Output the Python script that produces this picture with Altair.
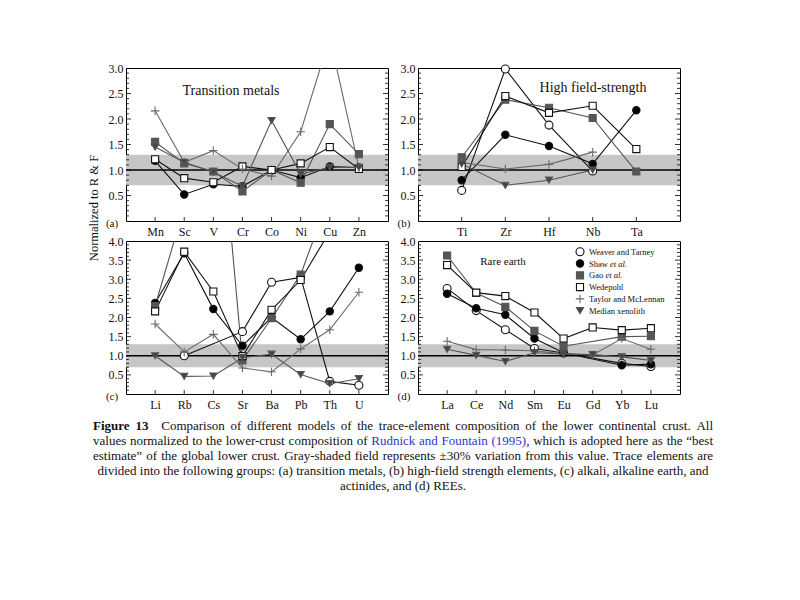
import altair as alt
import pandas as pd

FONT = "Liberation Serif"
SERIES = ["Weaver and Tarney", "Shaw et al.", "Gao et al.", "Wedepohl",
          "Taylor and McLennan", "Median xenolith"]

# ---- panel (a) transition metals
A_CATS = ["Mn", "Sc", "V", "Cr", "Co", "Ni", "Cu", "Zn"]
A_WEAVER = [None, None, None, None, None, None, None, None]
A_SHAW = [1.18, 0.52, 0.72, 0.68, 1.00, 0.85, 1.07, 1.05]
A_GAO = [1.55, 1.13, 0.97, 0.58, 1.00, 0.75, 1.90, 1.31]
A_WEDEPOHL = [1.21, 0.84, 0.76, 1.07, 1.00, 1.13, 1.45, 1.02]
A_TAYLOR = [2.16, 1.15, 1.38, 1.02, 0.88, 1.75, 3.60, 1.05]
A_MEDIAN = [1.45, 1.15, 0.96, 0.68, 1.97, 0.92, 1.05, 1.05]

# ---- panel (b) high field-strength
B_CATS = ["Ti", "Zr", "Hf", "Nb", "Ta"]
B_WEAVER = [0.60, 2.98, 1.88, 0.98, None]
B_SHAW = [0.80, 1.69, 1.47, 1.12, 2.17]
B_GAO = [1.25, 2.38, 2.22, 2.02, 0.97]
B_WEDEPOHL = [1.06, 2.45, 2.12, 2.26, 1.41]
B_TAYLOR = [1.15, 1.02, 1.11, 1.35, None]
B_MEDIAN = [1.12, 0.70, 0.80, 1.00, None]

# ---- panel (c) alkali, alkaline earth, actinides
C_CATS = ["Li", "Rb", "Cs", "Sr", "Ba", "Pb", "Th", "U"]
C_WEAVER = [None, 1.00, None, 1.63, 2.92, 3.05, 0.33, 0.23]
C_SHAW = [2.38, 3.68, 2.22, 1.26, 2.00, 1.43, 2.16, 3.30]
C_GAO = [2.30, 4.90, 9.30, 0.88, 1.98, 3.12, 5.20, None]
C_WEDEPOHL = [2.16, 3.72, 2.68, 0.99, 2.20, 2.98, 4.25, None]
C_TAYLOR = [1.83, 1.10, 1.56, 0.68, 0.58, 1.18, 1.68, 2.66]
C_MEDIAN = [1.00, 0.46, 0.47, 0.95, 1.04, 0.51, 0.27, 0.40]

# ---- panel (d) rare earth
D_CATS = ["La", "Ce", "Nd", "Sm", "Eu", "Gd", "Yb", "Lu"]
D_WEAVER = [2.76, 2.18, 1.68, 1.19, 1.07, None, 0.80, 0.72]
D_SHAW = [2.62, 2.24, 2.07, 1.45, 1.08, None, 0.75, 0.78]
D_GAO = [3.62, 2.64, 2.28, 1.65, 1.25, None, 1.50, 1.51]
D_WEDEPOHL = [3.37, 2.65, 2.56, 2.13, 1.45, 1.74, 1.67, 1.72]
D_TAYLOR = [1.38, 1.16, 1.15, 1.13, 1.05, 1.02, 1.45, 1.17]
D_MEDIAN = [1.17, 1.01, 0.85, 1.08, 1.05, 1.03, 0.97, 0.88]

BAND = [0.7, 1.3]
REF = 1.0

W, H = 262, 153

STROKE = alt.Scale(domain=SERIES, range=["#111111", "#111111", "#555555", "#111111", "#6a6a6a", "#555555"])
SHAPE = alt.Scale(domain=SERIES, range=["circle", "circle", "square", "square",
                                        "M-1,0L1,0M0,-1L0,1", "triangle-down"])
FILL = alt.Scale(domain=SERIES, range=["#ffffff", "#000000", "#555555", "#ffffff", "#6a6a6a", "#444444"])
SIZES = {"Weaver and Tarney": 64, "Shaw et al.": 54, "Gao et al.": 50, "Wedepohl": 50,
         "Taylor and McLennan": 72, "Median xenolith": 50}


def xq(cats):
    return alt.X("el:N", sort=cats,
                 scale=alt.Scale(type="point", padding=1, domain=cats),
                 axis=alt.Axis(title=None, ticks=False, domain=False, grid=False, labelAngle=0,
                               labelFont=FONT, labelFontSize=12, labelPadding=5, labelColor="#111"))


def yq(field, ymax):
    return alt.Y(f"{field}:Q",
                 scale=alt.Scale(domain=[0, ymax], nice=False, zero=False),
                 axis=alt.Axis(title=None, values=[0.5 * k for k in range(1, int(ymax * 2) + 1)],
                               format=".1f", ticks=False, domain=False, grid=False,
                               labelFont=FONT, labelFontSize=12, labelPadding=3, labelColor="#111"))


def text_layer(txt, x, y, size, **kw):
    return alt.Chart(pd.DataFrame({"t": [txt]})).mark_text(
        font=FONT, fontSize=size, color="#111", **kw).encode(
        text="t:N", x=alt.value(x), y=alt.value(y))


# ---- caption, laid out word by word (Times metrics, per 1000 em)
TW = {" ": 250, "(": 333, ")": 333, ",": 250, ".": 250, "-": 333, ":": 278, ";": 278,
      "\u201c": 444, "\u201d": 444, "\u00b1": 564, "%": 833, "&": 778}
TW.update({c: 500 for c in "0123456789"})
TW.update(dict(zip("abcdefghijklmnopqrstuvwxyz",
                   [444, 500, 444, 500, 444, 333, 500, 500, 278, 278, 500, 278, 778, 500, 500, 500,
                    500, 333, 389, 278, 500, 500, 722, 500, 500, 444])))
TW.update(dict(zip("ABCDEFGHIJKLMNOPQRSTUVWXYZ",
                   [722, 667, 667, 722, 611, 556, 722, 722, 333, 389, 722, 611, 889, 722, 722, 556,
                    722, 667, 556, 611, 722, 722, 944, 722, 722, 611])))
TWB = dict(TW)
TWB.update({"F": 611, "u": 556, "r": 444})
CFS = 13.0


def tw(text, bold=False):
    tab = TWB if bold else TW
    return sum(tab.get(ch, 500) for ch in text) * CFS / 1000.0


def toks(s, style="n"):
    return [{"t": w, "s": style, "glue": False, "extra": 0.0} for w in s.split()]


CAP_LINES = [
    ([{"t": "Figure", "s": "b", "glue": False, "extra": 0.0},
      {"t": "13", "s": "b", "glue": False, "extra": 7.0}]
     + toks("Comparison of different models of the trace-element composition of the lower continental crust. All"),
     "justify"),
    (toks("values normalized to the lower-crust composition of")
     + toks("Rudnick and Fountain (1995)", "blue")
     + [{"t": ",", "s": "n", "glue": True, "extra": 0.0}]
     + toks("which is adopted here as the \u201cbest"), "justify"),
    (toks("estimate\u201d of the global lower crust. Gray-shaded field represents \u00b130% variation from this value. Trace elements are"),
     "justify"),
    (toks("divided into the following groups: (a) transition metals, (b) high-field strength elements, (c) alkali, alkaline earth, and"),
     "center"),
    (toks("actinides, and (d) REEs."), "center"),
]
# relative to panel (c)'s plot origin
CX0, CX1, CCENTER = -33.0, 587.0, 277.0
CY = [185, 200, 215, 230, 245]


def caption_layer():
    rows = []
    for (tokens, mode), y in zip(CAP_LINES, CY):
        widths = [tw(t["t"], t["s"] == "b") for t in tokens]
        nsp = sum(1 for t in tokens[1:] if not t["glue"])
        extras = sum(t["extra"] for t in tokens)
        sp = TW[" "] * CFS / 1000.0
        natural = sum(widths) + nsp * sp + extras
        if mode == "justify":
            x = CX0
            sp = sp + (CX1 - CX0 - natural) / nsp
        else:
            x = CCENTER - natural / 2
        for k, (t, w) in enumerate(zip(tokens, widths)):
            if k > 0 and not t["glue"]:
                x += sp
            rows.append({"t": t["t"], "x": x, "y": y, "bold": t["s"] == "b",
                         "c": "#2b36c4" if t["s"] == "blue" else "#111111"})
            x += w + t["extra"]
    cdf = pd.DataFrame(rows)
    base = alt.Chart(cdf)
    enc = dict(x=alt.X("x:Q", scale=None, axis=None), y=alt.Y("y:Q", scale=None, axis=None),
               text="t:N", color=alt.Color("c:N", scale=None))
    norm = base.transform_filter(alt.datum.bold == False).mark_text(
        font=FONT, fontSize=CFS, align="left", baseline="middle").encode(**enc)
    bold = base.transform_filter(alt.datum.bold == True).mark_text(
        font=FONT, fontSize=CFS, fontWeight="bold", align="left", baseline="middle").encode(**enc)
    return alt.layer(norm, bold)


def panel(cats, data, ymax, label, title=None, legend=False, ytitle=False, caption=False):
    rows = []
    for s, vals in zip(SERIES, data):
        for i, (c, v) in enumerate(zip(cats, vals)):
            if v is not None:
                rows.append({"el": c, "idx": i, "series": s, "v": v, "sz": SIZES[s]})
    df = pd.DataFrame(rows)

    bdf = pd.DataFrame({"lo": [BAND[0]], "hi": [BAND[1]], "ref": [REF]})
    band = alt.Chart(bdf).mark_rect(color="#c6c6c6").encode(
        y=yq("lo", ymax), y2="hi:Q", x=alt.value(0), x2=alt.value(W))
    ref = alt.Chart(bdf).mark_rule(color="#000", strokeWidth=1.3).encode(
        y=yq("ref", ymax), x=alt.value(0), x2=alt.value(W))

    tv = [round(0.1 * k, 1) for k in range(1, int(round(ymax * 10)))]
    tdf = pd.DataFrame({"t": tv, "major": [abs(t * 2 - round(t * 2)) < 1e-6 for t in tv]})
    layers = [band, ref]
    for is_major, ln in [(False, 3), (True, 5)]:
        sub = alt.Chart(tdf).transform_filter(alt.datum.major == is_major)
        layers.append(sub.mark_rule(color="#000", strokeWidth=0.8).encode(
            y=yq("t", ymax), x=alt.value(0), x2=alt.value(ln)))
        layers.append(sub.mark_rule(color="#000", strokeWidth=0.8).encode(
            y=yq("t", ymax), x=alt.value(W), x2=alt.value(W - ln)))
    layers.append(alt.Chart(pd.DataFrame({"el": cats})).mark_rule(color="#000", strokeWidth=0.8).encode(
        x=xq(cats), y=alt.value(H), y2=alt.value(H - 4)))

    lines = alt.Chart(df).mark_line(clip=True, strokeWidth=1.1).encode(
        x=xq(cats), y=yq("v", ymax),
        stroke=alt.Stroke("series:N", scale=STROKE, legend=None),
        detail="series:N", order=alt.Order("idx:Q"))
    points = alt.Chart(df).transform_filter(alt.datum.v <= ymax).mark_point(
        filled=True, opacity=1, strokeWidth=1.1).encode(
        x=xq(cats), y=yq("v", ymax),
        shape=alt.Shape("series:N", scale=SHAPE, legend=None),
        fill=alt.Fill("series:N", scale=FILL, legend=None),
        stroke=alt.Stroke("series:N", scale=STROKE, legend=None),
        size=alt.Size("sz:Q", scale=None))
    layers += [lines, points]

    if title:
        t, tx, ty, ts = title
        layers.append(text_layer(t, tx, ty, ts, align="center", baseline="middle"))
    layers.append(text_layer(label, -14, H + 3, 11, align="center", baseline="middle"))
    if ytitle:
        layers.append(text_layer("Normalized to R & F", -32, 140, 12.5, align="center",
                                 baseline="middle", angle=270))
    if legend:
        ldf = pd.DataFrame({"series": SERIES,
                            "lab": ["Weaver and Tarney", "Shaw", "Gao", "Wedepohl",
                                    "Taylor and McLennan", "Median xenolith"],
                            "i": list(range(len(SERIES)))})
        ldf["sz"] = [SIZES[s] for s in SERIES]
        ldf["ly"] = [ymax * (1 - (10.7 + 11.8 * i) / H) for i in ldf["i"]]
        layers.append(alt.Chart(ldf).mark_point(filled=True, opacity=1, strokeWidth=1.1).encode(
            x=alt.value(162), y=yq("ly", ymax),
            shape=alt.Shape("series:N", scale=SHAPE, legend=None),
            fill=alt.Fill("series:N", scale=FILL, legend=None),
            stroke=alt.Stroke("series:N", scale=STROKE, legend=None),
            size=alt.Size("sz:Q", scale=None)))
        layers.append(alt.Chart(ldf).mark_text(font=FONT, fontSize=8.5, color="#111", align="left",
                                               baseline="middle").encode(
            x=alt.value(171), y=yq("ly", ymax), text="lab:N"))
        for s, xo in [("Shaw et al.", 192.0), ("Gao et al.", 187.5)]:
            layers.append(alt.Chart(ldf).transform_filter(alt.datum.series == s).mark_text(
                font=FONT, fontSize=8.5, fontStyle="italic", color="#111", align="left",
                baseline="middle").encode(x=alt.value(xo), y=yq("ly", ymax), text=alt.value("et al.")))
    main = alt.layer(*layers)
    if caption:
        main = alt.layer(main, caption_layer()).resolve_scale(
            x="independent", y="independent", color="independent")
    return main.properties(width=W, height=H)


pa = panel(A_CATS, [A_WEAVER, A_SHAW, A_GAO, A_WEDEPOHL, A_TAYLOR, A_MEDIAN], 3.0, "(a)",
           title=("Transition metals", 105, 23, 14), ytitle=True)
pb = panel(B_CATS, [B_WEAVER, B_SHAW, B_GAO, B_WEDEPOHL, B_TAYLOR, B_MEDIAN], 3.0, "(b)",
           title=("High field-strength", 175, 20, 14))
pc = panel(C_CATS, [C_WEAVER, C_SHAW, C_GAO, C_WEDEPOHL, C_TAYLOR, C_MEDIAN], 4.0, "(c)",
           caption=True)
pd_ = panel(D_CATS, [D_WEAVER, D_SHAW, D_GAO, D_WEDEPOHL, D_TAYLOR, D_MEDIAN], 4.0, "(d)",
            title=("Rare earth", 85, 21, 11), legend=True)

chart = alt.concat(pa, pb, pc, pd_, columns=2, spacing={"row": 20, "column": 30},
                   bounds="flush").properties(
    padding={"left": 79, "top": 53, "right": 5, "bottom": 5},
    background="white",
).configure_view(stroke="#000", strokeWidth=1)

chart.save("out.html", embed_options={"renderer": "svg", "actions": False})
